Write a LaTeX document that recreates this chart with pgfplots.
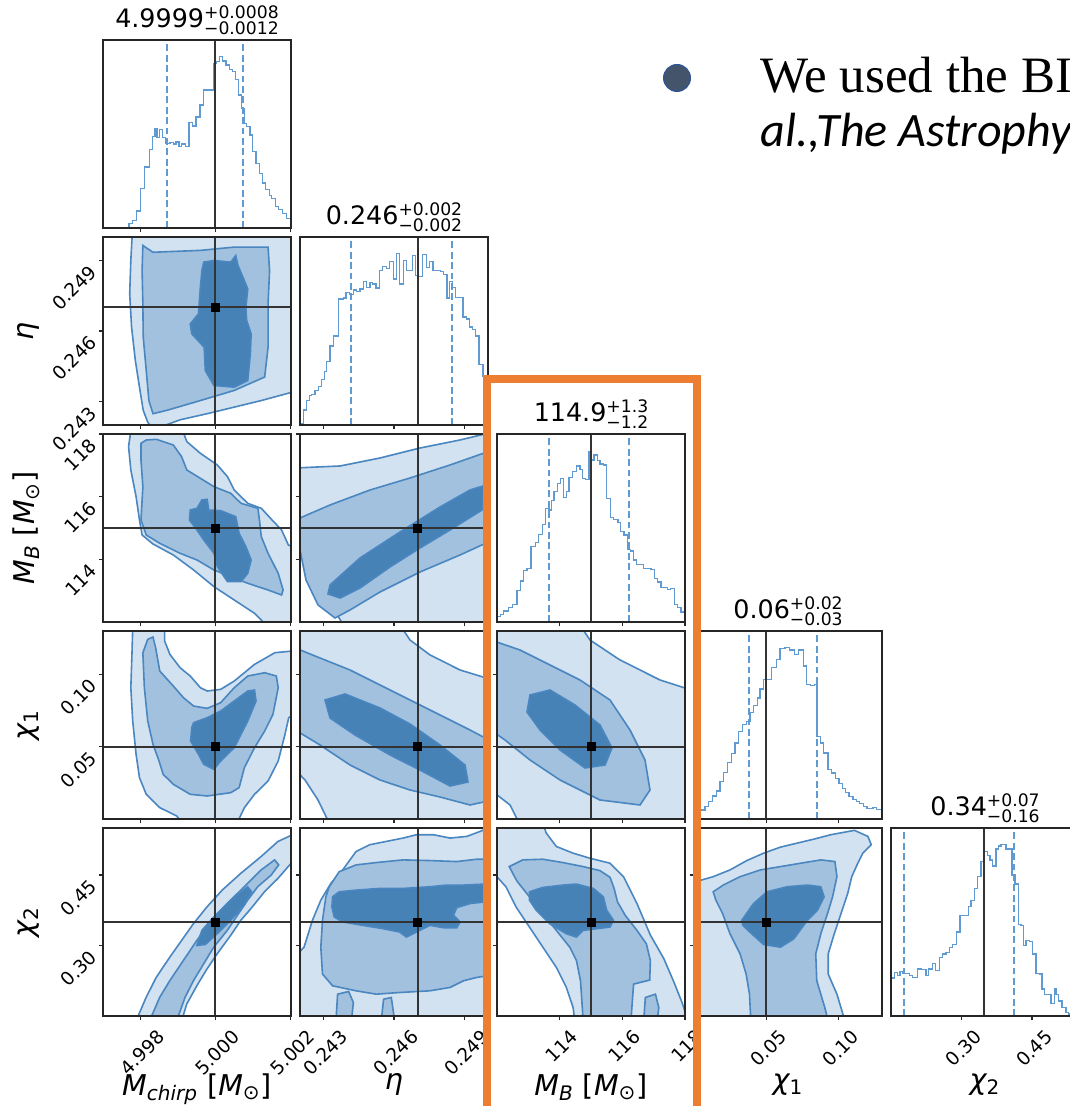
\documentclass[border=0pt]{standalone}
\usepackage{pgfplots}
\pgfplotsset{compat=1.18}
\usepackage{graphicx}
\usepackage{fontspec}
\setmainfont{DejaVu Sans}
\newfontfamily\slideserif{Liberation Serif}
\newfontfamily\slidesans{Carlito}
\definecolor{cdark}{RGB}{70,130,182}
\definecolor{cmed}{RGB}{161,193,222}
\definecolor{clight}{RGB}{210,226,240}
\definecolor{cline}{RGB}{74,134,192}
\definecolor{chist}{RGB}{95,155,210}
\definecolor{corange}{RGB}{237,125,49}
\definecolor{bfill}{RGB}{68,84,106}
\definecolor{bedge}{RGB}{47,85,151}
\newcommand{\ttl}[3]{#1\rlap{\raisebox{4.6pt}{\fontsize{8.6}{9}\selectfont#2}}\raisebox{-3.6pt}{\fontsize{8.6}{9}\selectfont#3}}
\newcommand{\rb}[1]{\rotatebox{45}{#1}}
\pgfplotsset{
 base/.style={width=94pt,height=94pt,scale only axis,anchor=south west,axis on top,
   tick align=outside,tick pos=left,major tick length=2.2pt,
   axis line style={line width=0.6pt,black!85},
   every tick/.style={black!85,line width=0.6pt},
   ticklabel style={font=\fontsize{9.3}{10}\selectfont},
   xticklabels={},yticklabels={},scaled ticks=false,clip=true,
   xticklabel style={anchor=north,inner sep=0pt,yshift=-4pt,xshift=1pt},
   yticklabel style={anchor=north east,inner sep=0pt,xshift=0pt,yshift=-1.5pt},
   xlabel style={at={(axis description cs:0.5,-0.27)},anchor=north,font=\fontsize{14.3}{17}\selectfont},
   ylabel style={at={(axis description cs:-0.3,0.5)},anchor=south,font=\fontsize{14.3}{17}\selectfont}},
 hist/.style={ymin=0,ymax=1,ytick=\empty,
   title style={at={(axis description cs:0.5,1)},anchor=south,inner sep=0pt,yshift=-3.6pt,font=\fontsize{12.7}{15}\selectfont}},
 xMc/.style={xmin=4.99701,xmax=5.00201,xtick={4.998,5.000,5.002}},
 xEta/.style={xmin=0.242,xmax=0.250,xtick={0.243,0.246,0.249}},
 xMB/.style={xmin=112,xmax=118,xtick={114,116,118}},
 xCa/.style={xmin=0,xmax=0.13,xtick={0.05,0.10}},
 xCb/.style={xmin=0.15,xmax=0.55,xtick={0.30,0.45}},
 yEta/.style={ymin=0.242,ymax=0.250,ytick={0.243,0.246,0.249}},
 yMB/.style={ymin=112,ymax=118,ytick={114,116,118}},
 yCa/.style={ymin=0,ymax=0.13,ytick={0.05,0.10}},
 yCb/.style={ymin=0.15,ymax=0.55,ytick={0.30,0.45}},
 c1/.style={fill=clight,draw=cline,line width=0.8pt},
 c2/.style={fill=cmed,draw=cline,line width=0.8pt},
 c3/.style={fill=cdark,draw=cline,line width=0.8pt},
 h/.style={const plot,color=chist,line width=0.65pt},
 q/.style={color=chist,line width=0.95pt,dash pattern=on 3.4pt off 1.8pt},
 tr/.style={color=black!80,line width=1pt},
 tm/.style={only marks,mark=square*,mark size=2pt,color=black},
}
\begin{document}
\begin{tikzpicture}
\path[use as bounding box] (0,0) rectangle (534.5pt,553pt);
% ---------- row 0 ----------
\begin{axis}[base,hist,xMc,at={(51.5pt,439pt)},title={\ttl{4.9999}{+0.0008}{−0.0012}}]
\addplot[h] coordinates {(4.99770,0) (4.99770,.023) (4.99779,.041) (4.99790,.091) (4.99800,.210) (4.99812,.325) (4.99824,.417) (4.99832,.485) (4.99839,.529) (4.99845,.481) (4.99852,.524) (4.99859,.481) (4.99868,.449) (4.99879,.453) (4.99888,.446) (4.99895,.458) (4.99903,.432) (4.99910,.446) (4.99921,.435) (4.99930,.560) (4.99939,.542) (4.99948,.591) (4.99959,.654) (4.99969,.734) (4.99994,.876) (5.00003,.885) (5.00010,.911) (5.00019,.888) (5.00028,.867) (5.00037,.844) (5.00046,.831) (5.00054,.790) (5.00062,.707) (5.00070,.636) (5.00077,.556) (5.00083,.538) (5.00092,.494) (5.00099,.405) (5.00108,.343) (5.00117,.290) (5.00125,.240) (5.00133,.204) (5.00143,.174) (5.00150,.156) (5.00159,.115) (5.00168,.098) (5.00179,.076) (5.00189,.050) (5.00202,.050)};
\addplot[q] coordinates {(4.99872,0) (4.99872,1)};
\addplot[q] coordinates {(5.00074,0) (5.00074,1)};
\addplot[tr] coordinates {(5,0) (5,1)};
\end{axis}
% ---------- row 1 ----------
\begin{axis}[base,xMc,yEta,at={(51.5pt,340.5pt)},ylabel={{\itshape η}},
  yticklabels={\rb{0.243},\rb{0.246},\rb{0.249}}]
\addplot[c1] coordinates {(4.99780,0.2505) (4.99775,0.2490) (4.99772,0.24758) (4.99777,0.24616) (4.99787,0.24474) (4.99798,0.24361) (4.99808,0.24262) (4.99820,0.24212) (4.99834,0.2418) (4.99906,0.24222) (4.99978,0.24248) (5.00050,0.24276) (5.00122,0.24304) (5.00205,0.24340) (5.0025,0.24345) (5.0025,0.2505)} -- cycle;
\addplot[c2] coordinates {(4.99807,0.24964) (4.99834,0.24935) (4.99960,0.24943) (5.00050,0.24957) (5.00140,0.24957) (5.00144,0.24857) (5.00140,0.24716) (5.00140,0.24531) (5.00131,0.24404) (5.00050,0.24347) (4.99960,0.24304) (4.99870,0.24262) (4.99834,0.24248) (4.99823,0.24304) (4.99816,0.24432) (4.99808,0.24574) (4.99807,0.24716) (4.99805,0.24857)} -- cycle;
\addplot[c3] coordinates {(4.99969,0.24893) (4.99996,0.24900) (5.00041,0.24893) (5.00054,0.24921) (5.00060,0.24879) (5.00075,0.24822) (5.00086,0.24779) (5.00081,0.24701) (5.00083,0.24645) (5.00095,0.24588) (5.00093,0.24503) (5.00086,0.24389) (5.00050,0.24361) (4.99996,0.24368) (4.99973,0.24432) (4.99970,0.24531) (4.99937,0.24588) (4.99933,0.24630) (4.99955,0.24673) (4.99960,0.24787) (4.99964,0.24857)} -- cycle;
\addplot[tr] coordinates {(5,0.2415) (5,0.2505)};
\addplot[tr] coordinates {(4.9965,0.247) (5.0025,0.247)};
\addplot[tm] coordinates {(5,0.247)};
\end{axis}
\begin{axis}[base,hist,xEta,at={(150pt,340.5pt)},title={\ttl{0.246}{+0.002}{−0.002}}]
\addplot[h] coordinates {(0.24200,0) (0.24200,.009) (0.242142,.080) (0.242283,.129) (0.242396,.157) (0.242496,.164) (0.242637,.182) (0.242779,.205) (0.242920,.241) (0.243034,.286) (0.243133,.336) (0.243274,.420) (0.243416,.473) (0.243628,.670) (0.243841,.675) (0.243954,.705) (0.244096,.693) (0.244266,.718) (0.244407,.711) (0.244549,.723) (0.244690,.764) (0.244832,.732) (0.244974,.759) (0.245087,.750) (0.245228,.729) (0.245370,.821) (0.245512,.843) (0.245682,.834) (0.245795,.871) (0.245965,.777) (0.246106,.911) (0.246248,.750) (0.246390,.875) (0.246531,.821) (0.246786,.902) (0.246928,.795) (0.247027,.789) (0.247211,.907) (0.247381,.839) (0.247522,.871) (0.247664,.821) (0.247976,.818) (0.248117,.800) (0.248259,.675) (0.248372,.764) (0.248485,.732) (0.248627,.679) (0.248938,.575) (0.249080,.563) (0.249222,.521) (0.249335,.509) (0.249476,.473) (0.249618,.321) (0.249788,.259) (0.2501,.259)};
\addplot[q] coordinates {(0.24417,0) (0.24417,1)};
\addplot[q] coordinates {(0.24846,0) (0.24846,1)};
\addplot[tr] coordinates {(0.247,0) (0.247,1)};
\end{axis}
% ---------- row 2 ----------
\begin{axis}[base,xMc,yMB,at={(51.5pt,242pt)},ylabel={{\itshape M}\textsubscript{\itshape B} [{\itshape M}\textsubscript{⊙}]},
  yticklabels={\rb{114},\rb{116},\rb{118}}]
\addplot[c1] coordinates {(4.99775,118.1) (4.99769,117.596) (4.99775,116.851) (4.99789,116.0) (4.99798,115.255) (4.99805,114.777) (4.99834,114.489) (4.99888,114.138) (4.99942,113.660) (4.99996,113.128) (5.00050,112.702) (5.00104,112.277) (5.00135,111.9) (5.0025,111.9) (5.0025,114.192) (5.00194,114.457) (5.00176,114.936) (5.00149,115.277) (5.00122,115.628) (5.00086,115.787) (5.00050,116.213) (5.00032,116.638) (5.00005,117.011) (4.99960,117.383) (4.99924,117.755) (4.99913,118.1)} -- cycle;
\addplot[c2] coordinates {(4.99802,117.702) (4.99816,117.808) (4.99843,117.830) (4.99888,117.649) (4.99910,117.277) (4.99924,116.851) (4.99960,116.585) (4.99996,116.319) (5.00041,116.106) (5.00068,115.787) (5.00113,115.628) (5.00117,115.255) (5.00122,114.723) (5.00140,114.192) (5.00167,113.553) (5.00180,113.021) (5.00176,112.862) (5.00140,113.021) (5.00086,113.234) (5.00041,113.447) (4.99996,113.660) (4.99951,113.979) (4.99906,114.192) (4.99852,114.511) (4.99816,114.777) (4.99802,115.255) (4.99807,116.319) (4.99802,117.170)} -- cycle;
\addplot[c3] coordinates {(4.99933,115.574) (4.99951,115.628) (4.99964,115.894) (4.99978,115.915) (4.99982,115.574) (5.00014,115.553) (5.00054,115.362) (5.00063,114.830) (5.00081,114.404) (5.00095,113.979) (5.00086,113.553) (5.00068,113.287) (5.00032,113.287) (5.00005,113.766) (4.99996,114.192) (4.99969,114.617) (4.99951,114.936) (4.99931,115.255)} -- cycle;
\addplot[tr] coordinates {(5,111.5) (5,118.5)};
\addplot[tr] coordinates {(4.9965,115) (5.0025,115)};
\addplot[tm] coordinates {(5,115)};
\end{axis}
\begin{axis}[base,xEta,yMB,at={(150pt,242pt)}]
\addplot[c1] coordinates {(0.2418,116.915) (0.243702,116.979) (0.245404,117.234) (0.247106,117.553) (0.248809,117.809) (0.2502,118.06) (0.2502,111.8) (0.243915,111.8) (0.243277,112.638) (0.242511,113.596) (0.2418,114.617)} -- cycle;
\addplot[c2] coordinates {(0.2418,115.255) (0.243277,115.734) (0.244979,116.213) (0.246681,116.596) (0.248383,117.011) (0.2502,117.489) (0.2502,114.617) (0.248809,114.138) (0.247106,113.596) (0.245404,112.957) (0.244128,112.383) (0.243489,112.128) (0.242766,112.543) (0.242255,113.340) (0.242,114.298)} -- cycle;
\addplot[c3] coordinates {(0.243277,113.181) (0.244553,114.043) (0.246255,114.872) (0.247957,115.670) (0.249234,116.213) (0.249830,116.349) (0.249745,115.574) (0.248383,114.936) (0.247106,114.362) (0.245830,113.755) (0.244553,113.085) (0.243702,112.766) (0.243191,112.894)} -- cycle;
\addplot[tr] coordinates {(0.247,111.5) (0.247,118.5)};
\addplot[tr] coordinates {(0.2415,115) (0.2505,115)};
\addplot[tm] coordinates {(0.247,115)};
\end{axis}
\begin{axis}[base,hist,xMB,at={(248.5pt,242pt)},title={\ttl{114.9}{+1.3}{−1.2}}]
\addplot[h] coordinates {(112.000,0) (112.000,.030) (112.107,.041) (112.214,.059) (112.374,.076) (112.502,.094) (112.641,.169) (112.747,.218) (112.854,.275) (112.961,.284) (113.089,.403) (113.228,.421) (113.335,.467) (113.441,.520) (113.548,.604) (113.655,.595) (113.730,.648) (113.815,.693) (113.922,.737) (114.028,.764) (114.114,.663) (114.221,.693) (114.295,.769) (114.402,.799) (114.541,.829) (114.648,.812) (114.722,.764) (114.829,.758) (114.936,.906) (115.011,.861) (115.096,.888) (115.203,.858) (115.288,.840) (115.395,.835) (115.502,.657) (115.630,.556) (115.715,.545) (115.865,.528) (115.950,.480) (116.057,.462) (116.164,.385) (116.270,.378) (116.356,.329) (116.463,.307) (116.676,.284) (116.911,.279) (117.018,.231) (117.124,.213) (117.231,.183) (117.445,.172) (117.530,.178) (117.658,.094) (117.765,.076) (117.872,.053) (118.05,.053)};
\addplot[q] coordinates {(113.66,0) (113.66,1)};
\addplot[q] coordinates {(116.20,0) (116.20,1)};
\addplot[tr] coordinates {(115,0) (115,1)};
\end{axis}
% ---------- row 3 ----------
\begin{axis}[base,xMc,yCa,at={(51.5pt,143.5pt)},ylabel={{\itshape χ}\textsubscript{1}},
  yticklabels={\rb{0.05},\rb{0.10}}]
\addplot[c1] coordinates {(4.99780,0.132) (4.99778,0.11382) (4.99775,0.09078) (4.99780,0.06774) (4.99789,0.04470) (4.99798,0.02858) (4.99816,0.01706) (4.99852,0.00784) (4.99897,0.00208) (4.99910,-0.002) (5.00059,-0.002) (5.00077,0.00784) (5.00104,0.01706) (5.00140,0.02627) (5.00167,0.04010) (5.00185,0.05853) (5.00195,0.07005) (5.0025,0.07926) (5.0025,0.11728) (5.00158,0.11498) (5.00104,0.10691) (5.00050,0.09539) (5.00014,0.08963) (4.99978,0.08848) (4.99960,0.09078) (4.99933,0.09885) (4.99906,0.10461) (4.99879,0.11382) (4.99865,0.12304) (4.99865,0.132)} -- cycle;
\addplot[c2] coordinates {(4.99807,0.11498) (4.99820,0.12419) (4.99834,0.12580) (4.99841,0.11843) (4.99852,0.10230) (4.99888,0.09194) (4.99915,0.08387) (4.99942,0.07811) (4.99978,0.07650) (5.00014,0.08042) (5.00050,0.09078) (5.00086,0.09885) (5.00131,0.10115) (5.00162,0.09885) (5.00167,0.09078) (5.00153,0.07235) (5.00131,0.06083) (5.00104,0.04931) (5.00077,0.03549) (5.00063,0.02166) (5.00041,0.01821) (4.99978,0.01590) (4.99933,0.01706) (4.99888,0.02397) (4.99861,0.03088) (4.99850,0.04010) (4.99834,0.05162) (4.99820,0.06774) (4.99811,0.09078)} -- cycle;
\addplot[c3] coordinates {(4.99942,0.06659) (4.99978,0.07005) (5.00014,0.07466) (5.00050,0.08157) (5.00086,0.08848) (5.00104,0.08917) (5.00108,0.08157) (5.00086,0.06774) (5.00068,0.05853) (5.00050,0.04931) (5.00014,0.04010) (4.99996,0.03434) (4.99969,0.03779) (4.99955,0.04470) (4.99934,0.05392) (4.99937,0.06314)} -- cycle;
\addplot[tr] coordinates {(5,-0.01) (5,0.14)};
\addplot[tr] coordinates {(4.9965,0.05) (5.0025,0.05)};
\addplot[tm] coordinates {(5,0.05)};
\end{axis}
\begin{axis}[base,xEta,yCa,at={(150pt,143.5pt)}]
\addplot[c1] coordinates {(0.2418,0.134) (0.246255,0.134) (0.246681,0.12378) (0.247532,0.11341) (0.248809,0.10303) (0.2502,0.09612) (0.2502,-0.004) (0.243277,-0.004) (0.242766,0.01314) (0.242213,0.02697) (0.2418,0.03388)} -- cycle;
\addplot[c2] coordinates {(0.2418,0.11825) (0.242851,0.11133) (0.244128,0.10303) (0.245404,0.09266) (0.246681,0.08229) (0.247957,0.07192) (0.249234,0.06154) (0.2502,0.05325) (0.2502,0.01314) (0.249234,0.00968) (0.247957,0.01521) (0.246681,0.02005) (0.245404,0.02697) (0.244128,0.03734) (0.242851,0.05117) (0.2418,0.06154)} -- cycle;
\addplot[c3] coordinates {(0.243064,0.08229) (0.243915,0.08644) (0.245404,0.07676) (0.246681,0.06569) (0.247957,0.05117) (0.249021,0.03734) (0.249149,0.02559) (0.248383,0.02282) (0.247106,0.03388) (0.245830,0.04426) (0.244340,0.05809) (0.243277,0.06984)} -- cycle;
\addplot[tr] coordinates {(0.247,-0.01) (0.247,0.14)};
\addplot[tr] coordinates {(0.2415,0.05) (0.2505,0.05)};
\addplot[tm] coordinates {(0.247,0.05)};
\end{axis}
\begin{axis}[base,xMB,yCa,at={(248.5pt,143.5pt)}]
\addplot[c1] coordinates {(111.8,0.134) (114.649,0.134) (114.968,0.12378) (115.926,0.10995) (117.202,0.09612) (118.2,0.08920) (118.2,-0.004) (112.734,-0.004) (112.415,0.00968) (111.8,0.02005)} -- cycle;
\addplot[c2] coordinates {(111.8,0.12378) (112.734,0.11686) (113.691,0.10649) (114.649,0.09612) (115.606,0.08229) (116.245,0.06154) (116.723,0.04080) (116.883,0.02005) (116.564,0.00968) (115.287,0.01314) (114.011,0.02697) (113.053,0.04080) (112.255,0.05463) (111.8,0.06154)} -- cycle;
\addplot[c3] coordinates {(113.053,0.08575) (113.691,0.08920) (114.489,0.07883) (115.287,0.06500) (115.670,0.04910) (115.447,0.03734) (114.809,0.03527) (114.011,0.04771) (113.372,0.06154) (112.957,0.07399)} -- cycle;
\addplot[tr] coordinates {(115,-0.01) (115,0.14)};
\addplot[tr] coordinates {(111.5,0.05) (118.5,0.05)};
\addplot[tm] coordinates {(115,0.05)};
\end{axis}
\begin{axis}[base,hist,xCa,at={(347pt,143.5pt)},title={\ttl{0.06}{+0.02}{−0.03}}]
\addplot[h] coordinates {(0,0) (0,.030) (.00460,.048) (.00759,.066) (.00989,.093) (.01266,.123) (.01565,.149) (.01795,.199) (.02025,.247) (.02301,.301) (.02600,.347) (.02830,.404) (.03060,.466) (.03359,.502) (.03636,.520) (.03866,.568) (.04096,.603) (.04372,.644) (.04556,.692) (.04786,.742) (.05361,.804) (.05706,.849) (.05937,.907) (.06282,.911) (.06581,.899) (.06972,.875) (.07202,.899) (.07547,.813) (.07777,.715) (.08054,.710) (.08353,.715) (.08514,.440) (.08744,.404) (.08974,.351) (.09273,.262) (.09503,.244) (.09802,.217) (.10032,.190) (.10262,.164) (.10492,.141) (.10723,.119) (.10999,.105) (.11229,.093) (.11459,.084) (.11735,.066) (.11965,.057) (.12379,.060) (.12609,.052) (.131,.052)};
\addplot[q] coordinates {(0.0380,0) (0.0380,1)};
\addplot[q] coordinates {(0.0850,0) (0.0850,1)};
\addplot[tr] coordinates {(0.05,0) (0.05,1)};
\end{axis}
% ---------- row 4 ----------
\begin{axis}[base,xMc,yCb,at={(51.5pt,45pt)},ylabel={{\itshape χ}\textsubscript{2}},
  yticklabels={\rb{0.30},\rb{0.45}},xticklabels={\rb{4.998},\rb{5.000},\rb{5.002}},
  xlabel={{\itshape M}\textsubscript{\itshape chirp} [{\itshape M}\textsubscript{⊙}]}]
\addplot[c1] coordinates {(4.997885,0.139) (4.998155,0.18929) (4.998425,0.23214) (4.998785,0.275) (4.9991,0.31071) (4.999415,0.34643) (4.999775,0.38214) (5.00018,0.41786) (5.000675,0.45357) (5.001215,0.48929) (5.001665,0.52143) (5.002052,0.53571) (5.0023,0.54286) (5.0023,0.48929) (5.002052,0.47857) (5.001665,0.44286) (5.001305,0.41429) (5.000945,0.37857) (5.000675,0.35357) (5.000405,0.32143) (5.000045,0.28214) (4.999775,0.25) (4.999505,0.21429) (4.999235,0.175) (4.9991,0.139)} -- cycle;
\addplot[c2] coordinates {(4.998245,0.139) (4.998515,0.18929) (4.998785,0.225) (4.999145,0.26786) (4.999505,0.31071) (4.999865,0.35) (5.000315,0.38929) (5.000765,0.425) (5.001215,0.46071) (5.001575,0.48214) (5.001683,0.47143) (5.001485,0.45) (5.001125,0.425) (5.000855,0.39643) (5.000585,0.36429) (5.000315,0.33214) (4.999955,0.29643) (4.999685,0.26071) (4.999415,0.225) (4.99919,0.18929) (4.998965,0.139)} -- cycle;
\addplot[c3] coordinates {(4.999505,0.3) (4.99964,0.33214) (4.999955,0.36071) (5.000405,0.39643) (5.000855,0.425) (5.000963,0.41429) (5.000765,0.38571) (5.000405,0.35357) (5.000045,0.325) (4.99973,0.30214)} -- cycle;
\addplot[tr] coordinates {(5,0.14) (5,0.56)};
\addplot[tr] coordinates {(4.9965,0.35) (5.0025,0.35)};
\addplot[tm] coordinates {(5,0.35)};
\end{axis}
\begin{axis}[base,xEta,yCb,at={(150pt,45pt)},xticklabels={\rb{0.243},\rb{0.246},\rb{0.249}},
  xlabel={{\itshape η}}]
\addplot[c1] coordinates {(0.2415,0.139) (0.2415,0.26071) (0.242171,0.29643) (0.242529,0.35357) (0.242886,0.39643) (0.243314,0.43214) (0.243814,0.46071) (0.244386,0.5) (0.244957,0.51429) (0.245671,0.52143) (0.246386,0.52857) (0.246957,0.53571) (0.247671,0.53571) (0.248386,0.52857) (0.2491,0.53214) (0.249671,0.54286) (0.2505,0.56) (0.2505,0.139)} -- cycle;
\addplot[c2] coordinates {(0.243243,0.425) (0.243671,0.45714) (0.244386,0.47143) (0.245243,0.47643) (0.246386,0.48214) (0.247529,0.48071) (0.248671,0.47857) (0.249529,0.48357) (0.2505,0.48357) (0.2505,0.23929) (0.249529,0.23214) (0.248957,0.225) (0.248386,0.21071) (0.247529,0.20357) (0.246243,0.2) (0.245243,0.19643) (0.244386,0.20357) (0.243386,0.21429) (0.242957,0.23929) (0.242886,0.29643) (0.242957,0.35357) (0.2431,0.40357)} -- cycle;
\addplot[c2] coordinates {(0.243529,0.139) (0.2436,0.19643) (0.244071,0.20214) (0.244271,0.17857) (0.244186,0.139)} -- cycle;
\addplot[c2] coordinates {(0.245457,0.139) (0.245557,0.18571) (0.245886,0.18929) (0.246029,0.139)} -- cycle;
\addplot[c3] coordinates {(0.243386,0.40357) (0.243671,0.41429) (0.244386,0.41786) (0.245386,0.42143) (0.246386,0.42143) (0.247529,0.425) (0.248243,0.42857) (0.248957,0.42857) (0.2505,0.43214) (0.2505,0.39643) (0.249243,0.38929) (0.248671,0.38071) (0.248529,0.36429) (0.248814,0.35) (0.248671,0.33786) (0.2481,0.33786) (0.247529,0.34286) (0.246957,0.32857) (0.246529,0.31786) (0.246243,0.32857) (0.245529,0.33571) (0.244671,0.34286) (0.243814,0.35) (0.243457,0.36071) (0.243357,0.38214)} -- cycle;
\addplot[tr] coordinates {(0.247,0.14) (0.247,0.56)};
\addplot[tr] coordinates {(0.2415,0.35) (0.2505,0.35)};
\addplot[tm] coordinates {(0.247,0.35)};
\end{axis}
\begin{axis}[base,xMB,yCb,at={(248.5pt,45pt)},xticklabels={\rb{114},\rb{116},\rb{118}},
  xlabel={{\itshape M}\textsubscript{\itshape B} [{\itshape M}\textsubscript{⊙}]}]
\addplot[c1] coordinates {(111.9,0.56) (111.9,0.45357) (112.284,0.425) (112.606,0.38214) (113.035,0.33929) (113.464,0.29643) (113.893,0.25357) (114.214,0.21071) (114.429,0.16786) (114.483,0.139) (118.1,0.139) (117.914,0.17714) (117.646,0.22214) (117.324,0.27214) (116.895,0.32214) (116.467,0.38929) (116.038,0.44643) (115.609,0.475) (114.965,0.48571) (114.429,0.49643) (113.893,0.51071) (113.571,0.53929) (113.464,0.56)} -- cycle;
\addplot[c2] coordinates {(112.391,0.46786) (112.820,0.48214) (113.464,0.48357) (114.107,0.47643) (114.751,0.46786) (115.287,0.45929) (115.609,0.445) (115.737,0.42143) (115.845,0.39286) (116.091,0.36429) (116.467,0.33214) (116.767,0.30357) (116.895,0.26786) (116.874,0.22643) (116.359,0.21786) (116.273,0.139) (114.751,0.139) (114.665,0.225) (114.536,0.26786) (114.322,0.29643) (113.893,0.33214) (113.464,0.36786) (113.035,0.40357) (112.627,0.43786)} -- cycle;
\addplot[c2] coordinates {(116.681,0.139) (116.735,0.18929) (117.056,0.19643) (117.164,0.16786) (117.110,0.139)} -- cycle;
\addplot[c3] coordinates {(113.035,0.41429) (113.464,0.42357) (114.107,0.42857) (114.536,0.43071) (115.072,0.42143) (115.394,0.40357) (115.501,0.375) (115.716,0.35357) (115.609,0.33929) (115.180,0.33571) (114.751,0.33214) (114.536,0.31786) (114.214,0.325) (113.678,0.34643) (113.249,0.375) (113.035,0.39643)} -- cycle;
\addplot[tr] coordinates {(115,0.14) (115,0.56)};
\addplot[tr] coordinates {(111.5,0.35) (118.5,0.35)};
\addplot[tm] coordinates {(115,0.35)};
\end{axis}
\begin{axis}[base,xCa,yCb,at={(347pt,45pt)},xticklabels={\rb{0.05},\rb{0.10}},
  xlabel={{\itshape χ}\textsubscript{1}}]
\addplot[c1] coordinates {(-0.003,0.43214) (0.013256,0.44643) (0.024884,0.46071) (0.036512,0.48071) (0.048140,0.49643) (0.059768,0.50929) (0.071395,0.51786) (0.083023,0.52643) (0.094651,0.53571) (0.110930,0.545) (0.120233,0.53214) (0.122558,0.51429) (0.116744,0.49643) (0.113256,0.475) (0.109070,0.44643) (0.106279,0.41071) (0.101628,0.36786) (0.096977,0.325) (0.092791,0.28214) (0.092791,0.23929) (0.098837,0.19643) (0.104419,0.139) (-0.003,0.139)} -- cycle;
\addplot[c2] coordinates {(0.013256,0.41429) (0.020233,0.42857) (0.031860,0.44643) (0.045814,0.46071) (0.059768,0.46786) (0.073721,0.475) (0.087674,0.48214) (0.097442,0.47857) (0.098837,0.44643) (0.095814,0.40357) (0.092326,0.36786) (0.087674,0.325) (0.084186,0.28214) (0.084884,0.225) (0.090465,0.16786) (0.092791,0.139) (0.039302,0.139) (0.038372,0.19643) (0.036047,0.23929) (0.031860,0.28214) (0.024884,0.325) (0.019767,0.36786) (0.015116,0.39643)} -- cycle;
\addplot[c3] coordinates {(0.033023,0.35357) (0.041163,0.38929) (0.050465,0.41429) (0.064419,0.425) (0.078372,0.42857) (0.087674,0.425) (0.09,0.40357) (0.085349,0.375) (0.078372,0.35357) (0.069070,0.31429) (0.059768,0.29643) (0.048140,0.30214) (0.041163,0.32143) (0.033721,0.34286)} -- cycle;
\addplot[tr] coordinates {(0.05,0.14) (0.05,0.56)};
\addplot[tr] coordinates {(-0.01,0.35) (0.14,0.35)};
\addplot[tm] coordinates {(0.05,0.35)};
\end{axis}
\begin{axis}[base,hist,xCb,at={(445.5pt,45pt)},title={\ttl{0.34}{+0.07}{−0.16}},
  xticklabels={\rb{0.30},\rb{0.45}},xlabel={{\itshape χ}\textsubscript{2}}]
\addplot[h] coordinates {(.15,.202) (.1571,.232) (.1642,.214) (.1691,.2375) (.1748,.227) (.1890,.214) (.1961,.205) (.2067,.250) (.2138,.246) (.2245,.214) (.2301,.250) (.2387,.280) (.2443,.241) (.2528,.3125) (.2599,.330) (.2670,.339) (.2741,.366) (.2812,.380) (.2897,.446) (.2968,.536) (.3152,.584) (.3202,.6125) (.3273,.679) (.3344,.741) (.3415,.821) (.3486,.875) (.3557,.852) (.3606,.830) (.3663,.798) (.3734,.8875) (.3791,.905) (.3840,.911) (.3947,.8875) (.4074,.750) (.4138,.702) (.4209,.4875) (.4266,.482) (.4316,.375) (.4372,.402) (.4443,.398) (.4514,.330) (.4585,.227) (.4656,.223) (.4713,.143) (.4762,.116) (.4833,.1125) (.4904,.066) (.4975,.143) (.5011,.1125) (.5067,.080) (.5138,.045) (.5223,.018) (.5273,.010) (.55,.010)};
\addplot[q] coordinates {(0.1784,0) (0.1784,1)};
\addplot[q] coordinates {(0.411,0) (0.411,1)};
\addplot[tr] coordinates {(0.347,0) (0.347,1)};
\end{axis}
% ---------- slide overlay ----------
\draw[corange,line width=4pt] (243.5pt,-10pt) -- (243.5pt,363.5pt) -- (348.25pt,363.5pt) -- (348.25pt,-10pt);
\fill[bfill,draw=bedge,line width=0.6pt] (338.5pt,514pt) circle (6.7pt);
\node[anchor=base west,inner sep=0pt] at (380pt,506.5pt) {\slideserif\fontsize{25.5}{30}\selectfont We used the BILBY};
\node[anchor=base west,inner sep=0pt] at (380pt,479.5pt) {\slidesans\itshape\fontsize{24}{28}\selectfont al.,The Astrophysical Journal};
\end{tikzpicture}
\end{document}
